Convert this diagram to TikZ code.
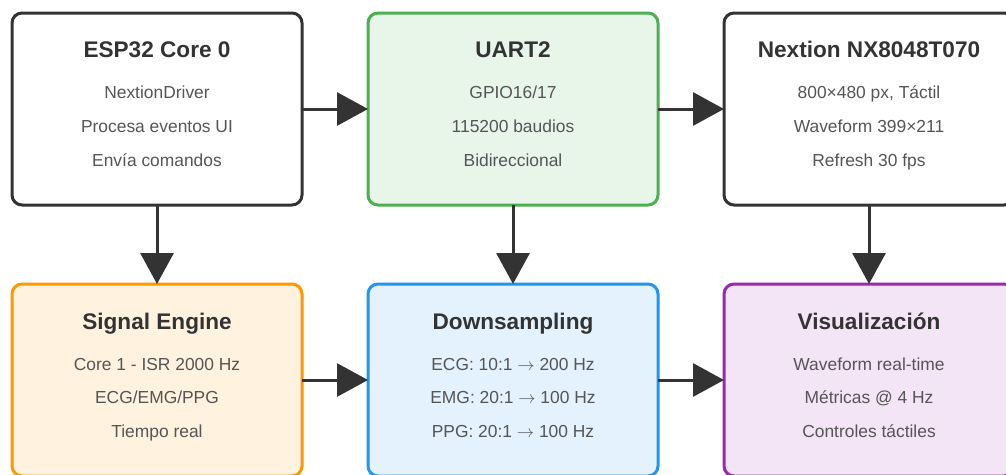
\documentclass[tikz,border=0pt]{standalone}
\usepackage{fontspec}
\setmainfont{Liberation Sans}
\usetikzlibrary{arrows.meta,calc}
\definecolor{dark}{HTML}{333333}
\definecolor{bodytxt}{HTML}{555555}
\definecolor{gfill}{HTML}{E8F5E9}\definecolor{gline}{HTML}{4CAF50}
\definecolor{ofill}{HTML}{FFF3E0}\definecolor{oline}{HTML}{FF9800}
\definecolor{bfill}{HTML}{E3F2FD}\definecolor{bline}{HTML}{2196F3}
\definecolor{pfill}{HTML}{F3E5F5}\definecolor{pline}{HTML}{9C27B0}
\newcommand{\rarr}{\ensuremath{\rightarrow}}
\tikzset{
  box/.style={draw=dark, fill=white, line width=3pt, rounded corners=10pt,
    minimum width=290pt, minimum height=192pt, inner sep=0pt, outer sep=0pt, anchor=north west},
  ttl/.style={anchor=base, text=dark, font=\fontsize{22.6}{27}\selectfont\bfseries, inner sep=0pt},
  txt/.style={anchor=base, text=bodytxt, font=\fontsize{17.4}{21}\selectfont, inner sep=0pt},
  conn/.style={draw=dark, line width=3pt, -{Triangle[length=31pt,width=33pt]}}
}
\begin{document}
\begin{tikzpicture}[x=1pt,y=-1pt]
\useasboundingbox (0,0) rectangle (1006,474);
\clip (0,0) rectangle (1006,474);
\fill[white] (0,0) rectangle (1006,474);
% top row
\node[box] (esp) at (12,13) {};
\node[box, fill=gfill, draw=gline] (uart) at (368,13) {};
\node[box] (nex) at (724,13) {};
% bottom row
\node[box, fill=ofill, draw=oline] (sig) at (12,284) {};
\node[box, fill=bfill, draw=bline] (down) at (368,284) {};
\node[box, fill=pfill, draw=pline] (vis) at (724,284) {};
% texts
\node[ttl] (esp-t) at ($(esp.north)+(0,44)$) {ESP32 Core 0};
\node[txt] (esp-1) at ($(esp.north)+(0,85)$) {NextionDriver};
\node[txt] (esp-2) at ($(esp.north)+(0,119)$) {Procesa eventos UI};
\node[txt] (esp-3) at ($(esp.north)+(0,153)$) {Envía comandos};
\node[ttl] (uart-t) at ($(uart.north)+(0,44)$) {UART2};
\node[txt] (uart-1) at ($(uart.north)+(0,85)$) {GPIO16/17};
\node[txt] (uart-2) at ($(uart.north)+(0,119)$) {115200 baudios};
\node[txt] (uart-3) at ($(uart.north)+(0,153)$) {Bidireccional};
\node[ttl] (nex-t) at ($(nex.north)+(0,44)$) {Nextion NX8048T070};
\node[txt] (nex-1) at ($(nex.north)+(0,85)$) {800×480 px, Táctil};
\node[txt] (nex-2) at ($(nex.north)+(0,119)$) {Waveform 399×211};
\node[txt] (nex-3) at ($(nex.north)+(0,153)$) {Refresh 30 fps};
\node[ttl] (sig-t) at ($(sig.north)+(0,45)$) {Signal Engine};
\node[txt] (sig-1) at ($(sig.north)+(0,86)$) {Core 1 - ISR 2000 Hz};
\node[txt] (sig-2) at ($(sig.north)+(0,119)$) {ECG/EMG/PPG};
\node[txt] (sig-3) at ($(sig.north)+(0,153)$) {Tiempo real};
\node[ttl] (down-t) at ($(down.north)+(0,45)$) {Downsampling};
\node[txt] (down-1) at ($(down.north)+(0,86)$) {ECG: 10:1 \rarr{} 200 Hz};
\node[txt] (down-2) at ($(down.north)+(0,119)$) {EMG: 20:1 \rarr{} 100 Hz};
\node[txt] (down-3) at ($(down.north)+(0,153)$) {PPG: 20:1 \rarr{} 100 Hz};
\node[ttl] (vis-t) at ($(vis.north)+(0,45)$) {Visualización};
\node[txt] (vis-1) at ($(vis.north)+(0,86)$) {Waveform real-time};
\node[txt] (vis-2) at ($(vis.north)+(0,119)$) {Métricas @ 4 Hz};
\node[txt] (vis-3) at ($(vis.north)+(0,153)$) {Controles táctiles};
% connectors
\draw[conn] (esp.east) -- (uart.west);
\draw[conn] (uart.east) -- (nex.west);
\draw[conn] (sig.east) -- (down.west);
\draw[conn] (down.east) -- (vis.west);
\draw[conn] (esp.south) -- (sig.north);
\draw[conn] (uart.south) -- (down.north);
\draw[conn] (nex.south) -- (vis.north);
\end{tikzpicture}
\end{document}
